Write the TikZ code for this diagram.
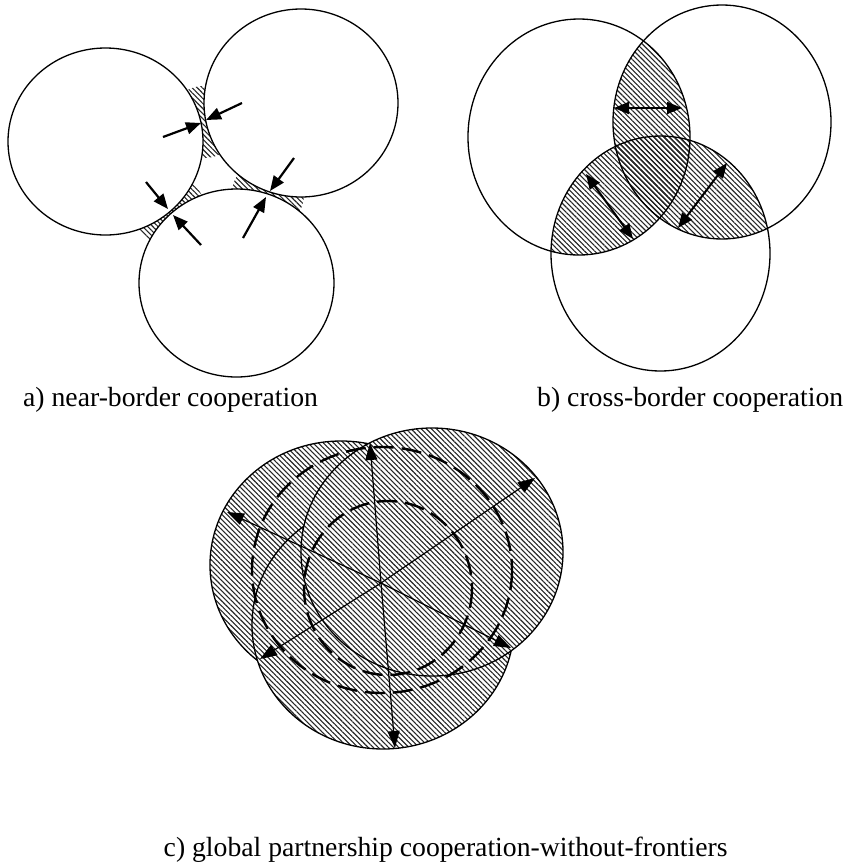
\documentclass[tikz,border=0pt]{standalone}
\usepackage{fontspec}
\setmainfont{Liberation Serif}
\usetikzlibrary{arrows.meta, patterns.meta}
\tikzset{
  ring/.style={line width=1.3pt},
  hatch/.style={pattern={Lines[angle=-45, distance=3.6pt, line width=1.1pt]}, pattern color=black!85},
  push/.style={-{Triangle[length=15pt, width=12pt]}, line width=2.2pt},
  span/.style={{Triangle[length=15pt, width=12pt]}-{Triangle[length=15pt, width=12pt]}, line width=2pt},
  reach/.style={{Triangle[length=17pt, width=12pt]}-{Triangle[length=17pt, width=12pt]}, line width=1.2pt},
  zone/.style={dash pattern=on 20pt off 8pt, line width=2.4pt},
  caption/.style={anchor=base west, inner sep=0pt, font=\fontsize{27.7}{33}\selectfont},
}

\begin{document}
\begin{tikzpicture}[x=1pt, y=-1pt]
  \useasboundingbox (0,0) rectangle (851,868);
  % a) centres and touching points
  \coordinate (a1) at (105.5,141.5);
  \coordinate (a2) at (301,103);
  \coordinate (a3) at (236.5,283);
  \coordinate (t12) at (204,122);
  \coordinate (t13) at (170,212);
  \coordinate (t23) at (268,194);
  % Hatched gaps
  \foreach \t in {t12,t13,t23}{
    \fill[hatch] (\t) circle[radius=36];
  }
  \fill[white] (a1) ellipse[x radius=97.5, y radius=93.5];
  \fill[white] (a2) ellipse[x radius=97, y radius=94];
  \fill[white] (a3) ellipse[x radius=97.5, y radius=94];
  \draw[ring] (a1) ellipse[x radius=97.5, y radius=93.5];
  \draw[ring] (a2) ellipse[x radius=97, y radius=94];
  \draw[ring] (a3) ellipse[x radius=97.5, y radius=94];
  % Arrows onto the borders
  \coordinate (p1) at (163,137);  \coordinate (q1) at (201,123);
  \coordinate (p2) at (242,103);  \coordinate (q2) at (206,120);
  \coordinate (p3) at (146,182);  \coordinate (q3) at (168,209);
  \coordinate (p4) at (201,245);  \coordinate (q4) at (173,215);
  \coordinate (p5) at (294,158);  \coordinate (q5) at (270,191);
  \coordinate (p6) at (243,238);  \coordinate (q6) at (266,197);
  \foreach \i in {1,...,6}{
    \draw[push] (p\i) -- (q\i);
  }
  \node[caption] (capA) at (23,406.5) {a) near-border cooperation};

  % b) overlapping circles
  \coordinate (b1) at (579,137);
  \coordinate (b2) at (722,122);
  \coordinate (b3) at (660.5,253.5);
  \begin{scope}
    \clip (b1) ellipse[x radius=111, y radius=118];
    \fill[hatch] (b2) ellipse[x radius=109, y radius=117];
    \fill[hatch] (b3) ellipse[x radius=109.5, y radius=117.5];
  \end{scope}
  \begin{scope}
    \clip (b2) ellipse[x radius=109, y radius=117];
    \fill[hatch] (b3) ellipse[x radius=109.5, y radius=117.5];
  \end{scope}
  \draw[ring] (b1) ellipse[x radius=111, y radius=118];
  \draw[ring] (b2) ellipse[x radius=109, y radius=117];
  \draw[ring] (b3) ellipse[x radius=109.5, y radius=117.5];
  \coordinate (u1) at (614,108);  \coordinate (v1) at (682,108);
  \coordinate (u2) at (586,174);  \coordinate (v2) at (633,239);
  \coordinate (u3) at (727,163);  \coordinate (v3) at (678,228);
  \foreach \i in {1,2,3}{
    \draw[span] (u\i) -- (v\i);
  }
  \node[caption] (capB) at (537,406.5) {b) cross-border cooperation};

  % c) one shared area
  \coordinate (c1) at (341,565);
  \coordinate (c2) at (432,552);
  \coordinate (c3) at (383,625);
  \foreach \c in {c1,c3,c2}{
    \fill[white] (\c) ellipse[x radius=131, y radius=124];
    \draw[ring, hatch] (\c) ellipse[x radius=131, y radius=124];
  }
  \coordinate (d1) at (382,570);
  \coordinate (d2) at (388,588);
  \draw[zone] (d1) ellipse[x radius=130, y radius=123];
  \draw[zone] (d2) ellipse[x radius=84, y radius=87];
  \coordinate (o) at (381,583);
  \coordinate (e1) at (370,443);  \coordinate (f1) at (395,748);
  \coordinate (e2) at (227,512);  \coordinate (f2) at (511,648);
  \coordinate (e3) at (535,478);  \coordinate (f3) at (260,659);
  \foreach \i in {1,2,3}{
    \draw[reach] (e\i) -- (o) -- (f\i);
  }
  \node[caption] (capC) at (163.5,856) {c) global partnership cooperation-without-frontiers};
\end{tikzpicture}
\end{document}
